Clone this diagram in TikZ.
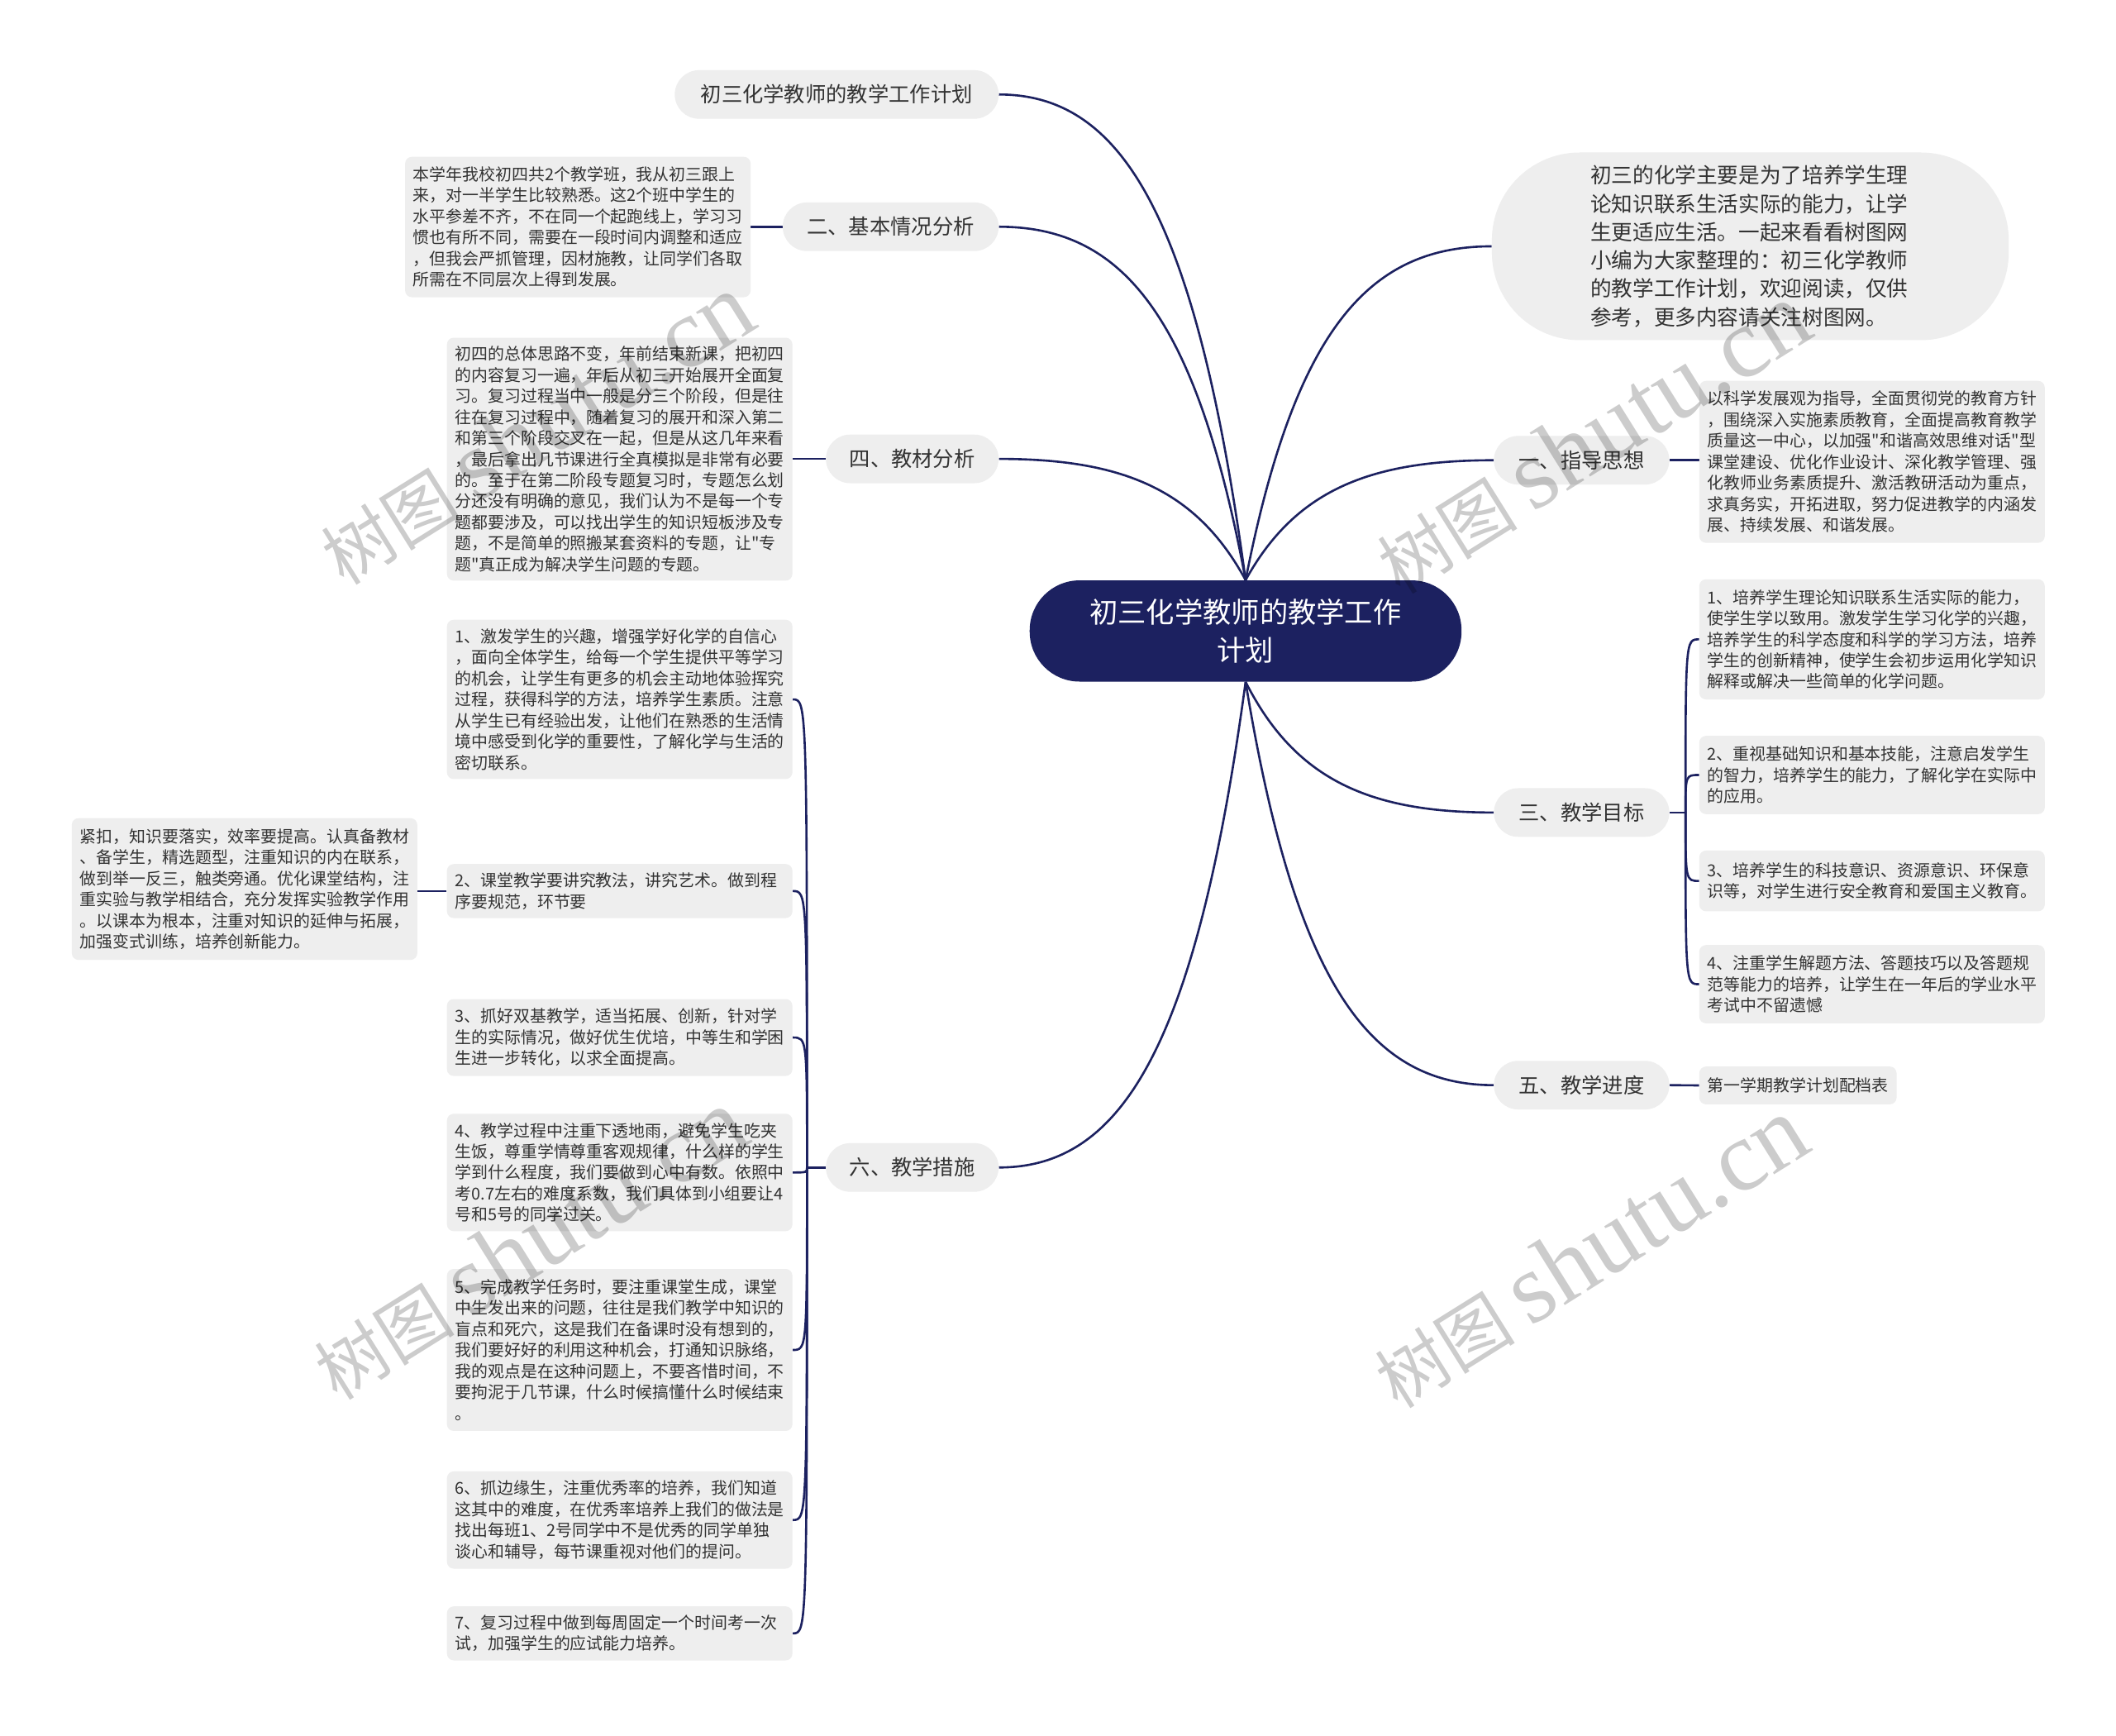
\documentclass[tikz,border=0pt]{standalone}
\usepackage{fontspec}
\setmainfont{Noto Sans CJK SC}
\newfontfamily\cjkmain{Noto Sans CJK SC}
\newfontfamily\wmlatin{Liberation Serif}
\usetikzlibrary{calc,backgrounds}
\definecolor{navy}{HTML}{1C2160}
\definecolor{boxgray}{HTML}{EEEEEE}
\definecolor{txt}{HTML}{333333}
\tikzset{
  conn/.style={draw=navy, line width=1.6pt},
  topic/.style={fill=boxgray, rounded corners=18pt, minimum height=36pt, inner xsep=0pt, inner ysep=0pt, text=txt, font=\cjkmain\fontsize{15.5pt}{18pt}\selectfont, anchor=center},
  leaf/.style={fill=boxgray, rounded corners=5pt, anchor=north west, inner xsep=6pt, inner ysep=0pt, text=txt, align=left, font=\cjkmain\fontsize{12.2pt}{15.6pt}\selectfont},
  wide/.style={text width=244pt},
  wm/.style={text=black, text opacity=0.2, rotate=32, inner sep=0pt, font=\cjkmain\fontsize{52pt}{60pt}\selectfont},
}
\newcommand\mmbranch[2]{\draw[conn] let \p1=(#1), \p2=(#2) in (\p1) .. controls ({\x1+0.2*(\x2-\x1)},{\y1+0.75*(\y2-\y1)}) and ({\x1+0.5*(\x2-\x1)},{\y2}) .. (\p2);}
\newcommand\mmhook[2]{\draw[conn] let \p1=(#1), \p2=(#2) in (\p1) .. controls (\x1,\y2) .. (\p2);}
\begin{document}
\cjkmain
\begin{tikzpicture}[x=1pt,y=-1pt]
\useasboundingbox (0,0) rectangle (1568,1286);

% center
\node[fill=navy, text=white, rounded corners=37pt, minimum width=320pt, minimum height=75pt, align=center, inner sep=0pt, font=\cjkmain\fontsize{21pt}{28pt}\selectfont] (c) at (923,467.5) {初三化学教师的教学工作\\计划};

% level-1 topics
\node[topic, minimum width=240pt] (t0) at (620,70) {初三化学教师的教学工作计划};
\node[topic, minimum width=160pt] (m2) at (660,168) {二、基本情况分析};
\node[topic, minimum width=128pt] (m4) at (676,340) {四、教材分析};
\node[topic, minimum width=128pt] (m6) at (676,865) {六、教学措施};
\node[topic, minimum width=130pt] (m1) at (1172,341) {一、指导思想};
\node[topic, minimum width=130pt] (m3) at (1172,602) {三、教学目标};
\node[topic, minimum width=130pt] (m5) at (1172,804) {五、教学进度};

\node[fill=boxgray, rounded corners=65pt, minimum width=383pt, minimum height=139pt, inner sep=0pt, text width=237pt, align=left, text=txt, font=\cjkmain\fontsize{15.7pt}{21pt}\selectfont] (intro) at (1297,182.5) {初三的化学主要是为了培养学生理\\论知识联系生活实际的能力，让学\\生更适应生活。一起来看看树图网\\小编为大家整理的：初三化学教师\\的教学工作计划，欢迎阅读，仅供\\参考，更多内容请关注树图网。};

% left leaves
\node[leaf, wide, minimum height=104pt] (b2) at (300,116) {本学年我校初四共2个教学班，我从初三跟上\\来，对一半学生比较熟悉。这2个班中学生的\\水平参差不齐，不在同一个起跑线上，学习习\\惯也有所不同，需要在一段时间内调整和适应\\，但我会严抓管理，因材施教，让同学们各取\\所需在不同层次上得到发展。};

\node[leaf, wide, minimum height=180pt] (b4) at (331,250) {初四的总体思路不变，年前结束新课，把初四\\的内容复习一遍，年后从初三开始展开全面复\\习。复习过程当中一般是分三个阶段，但是往\\往在复习过程中，随着复习的展开和深入第二\\和第三个阶段交叉在一起，但是从这几年来看\\，最后拿出几节课进行全真模拟是非常有必要\\的。至于在第二阶段专题复习时，专题怎么划\\分还没有明确的意见，我们认为不是每一个专\\题都要涉及，可以找出学生的知识短板涉及专\\题，不是简单的照搬某套资料的专题，让"专\\题"真正成为解决学生问题的专题。};

\node[leaf, wide, minimum height=118pt] (s1) at (331,459) {1、激发学生的兴趣，增强学好化学的自信心\\，面向全体学生，给每一个学生提供平等学习\\的机会，让学生有更多的机会主动地体验挥究\\过程，获得科学的方法，培养学生素质。注意\\从学生已有经验出发，让他们在熟悉的生活情\\境中感受到化学的重要性，了解化学与生活的\\密切联系。};

\node[leaf, wide, minimum height=40pt] (s2) at (331,640) {2、课堂教学要讲究教法，讲究艺术。做到程\\序要规范，环节要};

\node[leaf, wide, minimum height=105pt] (s2a) at (53,606) {紧扣，知识要落实，效率要提高。认真备教材\\、备学生，精选题型，注重知识的内在联系，\\做到举一反三，触类旁通。优化课堂结构，注\\重实验与教学相结合，充分发挥实验教学作用\\。以课本为根本，注重对知识的延伸与拓展，\\加强变式训练，培养创新能力。};

\node[leaf, wide, minimum height=57pt] (s3) at (331,740) {3、抓好双基教学，适当拓展、创新，针对学\\生的实际情况，做好优生优培，中等生和学困\\生进一步转化，以求全面提高。};

\node[leaf, wide, minimum height=87pt] (s4) at (331,825) {4、教学过程中注重下透地雨，避免学生吃夹\\生饭，尊重学情尊重客观规律，什么样的学生\\学到什么程度，我们要做到心中有数。依照中\\考0.7左右的难度系数，我们具体到小组要让4\\号和5号的同学过关。};

\node[leaf, wide, minimum height=120pt] (s5) at (331,940) {5、完成教学任务时，要注重课堂生成，课堂\\中生发出来的问题，往往是我们教学中知识的\\盲点和死穴，这是我们在备课时没有想到的，\\我们要好好的利用这种机会，打通知识脉络，\\我的观点是在这种问题上，不要吝惜时间，不\\要拘泥于几节课，什么时候搞懂什么时候结束\\。};

\node[leaf, wide, minimum height=72pt] (s6) at (331,1090) {6、抓边缘生，注重优秀率的培养，我们知道\\这其中的难度，在优秀率培养上我们的做法是\\找出每班1、2号同学中不是优秀的同学单独\\谈心和辅导，每节课重视对他们的提问。};

\node[leaf, wide, minimum height=40pt] (s7) at (331,1190) {7、复习过程中做到每周固定一个时间考一次\\试，加强学生的应试能力培养。};

% right leaves
\node[leaf, wide, minimum height=120pt] (r1) at (1259,282) {以科学发展观为指导，全面贯彻党的教育方针\\，围绕深入实施素质教育，全面提高教育教学\\质量这一中心，以加强"和谐高效思维对话"型\\课堂建设、优化作业设计、深化教学管理、强\\化教师业务素质提升、激活教研活动为重点，\\求真务实，开拓进取，努力促进教学的内涵发\\展、持续发展、和谐发展。};

\node[leaf, wide, minimum height=89pt] (g1) at (1259,429) {1、培养学生理论知识联系生活实际的能力，\\使学生学以致用。激发学生学习化学的兴趣，\\培养学生的科学态度和科学的学习方法，培养\\学生的创新精神，使学生会初步运用化学知识\\解释或解决一些简单的化学问题。};

\node[leaf, wide, minimum height=58pt] (g2) at (1259,545) {2、重视基础知识和基本技能，注意启发学生\\的智力，培养学生的能力，了解化学在实际中\\的应用。};

\node[leaf, wide, minimum height=45pt] (g3) at (1259,630) {3、培养学生的科技意识、资源意识、环保意\\识等，对学生进行安全教育和爱国主义教育。};

\node[leaf, wide, minimum height=58pt] (g4) at (1259,700) {4、注重学生解题方法、答题技巧以及答题规\\范等能力的培养，让学生在一年后的学业水平\\考试中不留遗憾};

\node[leaf, minimum width=146pt, minimum height=28pt] (p5) at (1259,790) {第一学期教学计划配档表};

\coordinate (f6) at (598,865);
\coordinate (f3) at (1249,602);

\begin{scope}[on background layer]
\fill[white] (0,0) rectangle (1568,1286);
\mmbranch{c.north}{t0.east}
\mmbranch{c.north}{m2.east}
\mmbranch{c.north}{m4.east}
\mmbranch{c.north}{intro.west}
\mmbranch{c.north}{m1.west}
\mmbranch{c.south}{m6.east}
\mmbranch{c.south}{m3.west}
\mmbranch{c.south}{m5.west}
\draw[conn] (m2.west) -- (b2.east |- m2.west);
\draw[conn] (m4.west) -- (b4.east |- m4.west);
\draw[conn] (m1.east) -- (r1.west |- m1.east);
\draw[conn] (m5.east) -- (p5.west);
\draw[conn] (s2.west) -- (s2a.east |- s2.west);
\draw[conn] (m6.west) -- (f6);
\draw[conn] (m3.east) -- (f3);
\mmhook{f6}{s1.east}
\mmhook{f6}{s2.east}
\mmhook{f6}{s3.east}
\mmhook{f6}{s4.east}
\mmhook{f6}{s5.east}
\mmhook{f6}{s6.east}
\mmhook{f6}{s7.east}
\mmhook{f3}{g1.west}
\mmhook{f3}{g2.west}
\mmhook{f3}{g3.west}
\mmhook{f3}{g4.west}
\end{scope}

% watermarks
\node[wm] (w1) at (397,318) {树图 {\wmlatin\fontsize{74pt}{80pt}\selectfont shutu.cn}};
\node[wm] (w2) at (1180,325) {树图 {\wmlatin\fontsize{74pt}{80pt}\selectfont shutu.cn}};
\node[wm] (w3) at (392,922) {树图 {\wmlatin\fontsize{74pt}{80pt}\selectfont shutu.cn}};
\node[wm] (w4) at (1178,928) {树图 {\wmlatin\fontsize{74pt}{80pt}\selectfont shutu.cn}};
\end{tikzpicture}
\end{document}
